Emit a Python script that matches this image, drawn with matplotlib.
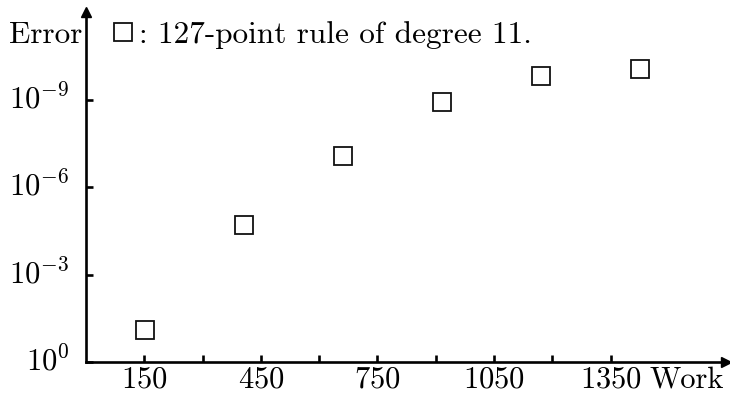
import numpy as np
import matplotlib
matplotlib.use('Agg')
import matplotlib.pyplot as plt
from matplotlib.ticker import FixedLocator, NullFormatter, LogFormatterMathtext

# data
work = [152, 407, 662, 917, 1171, 1425]
error = [7.9e-2, 2.0e-5, 8.9e-8, 1.2e-9, 1.6e-10, 9.3e-11]
xticks_major = [150, 450, 750, 1050, 1350]
xticks_minor = [300, 600, 900, 1200]
yticks = [1e0, 1e-3, 1e-6, 1e-9]
label = ': 127-point rule of degree 11.'

plt.rcParams['font.family'] = ['cmr10', 'DejaVu Sans']
plt.rcParams['mathtext.fontset'] = 'cm'
plt.rcParams['axes.unicode_minus'] = False
plt.rcParams['axes.formatter.use_mathtext'] = True
FS = 22.5
TFS = 22

fig = plt.figure(figsize=(7.3, 3.95), dpi=100)
ax = fig.add_axes([86 / 730, 33 / 395, 640 / 730, 350 / 395])

ax.plot(work, error, linestyle='none', marker='s', markersize=13,
        markerfacecolor='white', markeredgecolor='#111111', markeredgewidth=1.3,
        label=label, clip_on=False)

ax.set_yscale('log')
ax.set_ylim(1, 1e-12)
ax.set_xlim(0, 1647)

ax.xaxis.set_major_locator(FixedLocator(xticks_major))
ax.xaxis.set_minor_locator(FixedLocator(xticks_minor))
ax.xaxis.set_minor_formatter(NullFormatter())
ax.yaxis.set_major_locator(FixedLocator(yticks))
ax.yaxis.set_minor_locator(FixedLocator([]))
ax.yaxis.set_major_formatter(LogFormatterMathtext())

for s in ['top', 'right']:
    ax.spines[s].set_visible(False)
for s in ['left', 'bottom']:
    ax.spines[s].set_linewidth(1.9)

ax.tick_params(axis='both', which='both', direction='in', length=5, width=1.9,
               labelsize=TFS)
ax.tick_params(axis='x', pad=3)
ax.tick_params(axis='y', pad=12)
for t in ax.get_yticklabels():
    t.set_verticalalignment('center')

# axis arrows
ax.plot(1, 0, '>k', markersize=7, transform=ax.transAxes, clip_on=False)
ax.plot(0, 1, '^k', markersize=7, transform=ax.transAxes, clip_on=False)

ax.text(-0.005, 0.935, 'Error', transform=ax.transAxes, ha='right', va='center', fontsize=FS)
ax.text(0.997, -0.013, 'Work', transform=ax.transAxes, ha='right', va='top', fontsize=TFS)

ax.legend(loc='center left', bbox_to_anchor=(0.043, 0.935), frameon=False,
          fontsize=FS, handlelength=0.6, handletextpad=0.2, markerscale=0.95,
          borderaxespad=0, borderpad=0)

fig.savefig('out.png', dpi=100)
